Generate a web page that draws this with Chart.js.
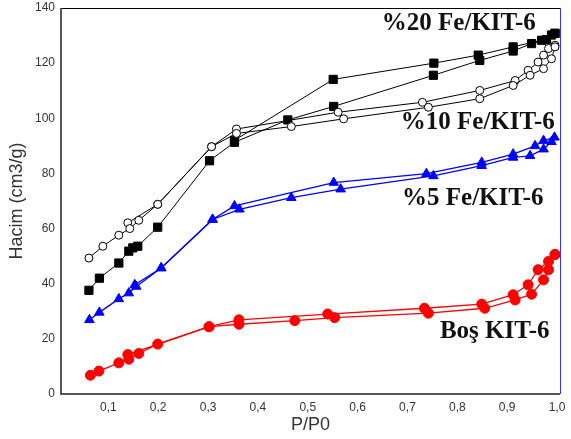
<!DOCTYPE html>
<html>
<head>
<meta charset="utf-8">
<script src="https://cdn.jsdelivr.net/npm/chart.js@4.4.1/dist/chart.umd.min.js"></script>
<style>
  html, body { margin: 0; padding: 0; background: #fff; }
  #wrap { width: 571px; height: 439px; position: relative; }
</style>
</head>
<body>
<div id="wrap"><canvas id="c"></canvas></div>
<script>
// Relative pressure ticks
var xTicks = [0.1, 0.2, 0.3, 0.4, 0.5, 0.6, 0.7, 0.8, 0.9, 1.0];
var yTicks = [0, 20, 40, 60, 80, 100, 120, 140];

// %20 Fe/KIT-6 (squares)
var fe20AdsP = [0.061, 0.082, 0.121, 0.141, 0.149, 0.159, 0.199, 0.303, 0.353, 0.460, 0.552, 0.752, 0.845, 0.912, 0.949, 0.979, 0.996];
var fe20AdsV = [37.6, 42.0, 47.5, 51.8, 53.0, 53.6, 60.5, 84.6, 91.3, 99.4, 104.3, 115.6, 121.0, 124.4, 127.1, 128.5, 130.8];
var fe20DesP = [0.996, 0.989, 0.969, 0.912, 0.842, 0.753, 0.551, 0.353];
var fe20DesV = [130.8, 130.2, 128.3, 125.9, 122.9, 120.0, 114.1, 92.0];

// %10 Fe/KIT-6 (open circles)
var fe10AdsP = [0.061, 0.089, 0.121, 0.143, 0.161, 0.199, 0.307, 0.357, 0.467, 0.572, 0.742, 0.845, 0.912, 0.946, 0.973, 0.989, 0.996];
var fe10AdsV = [49.3, 53.6, 57.6, 60.0, 63.0, 68.8, 89.7, 94.5, 97.0, 99.8, 104.0, 107.1, 111.9, 115.6, 118.0, 121.6, 125.9];
var fe10DesP = [0.996, 0.983, 0.973, 0.962, 0.942, 0.916, 0.845, 0.730, 0.561, 0.357, 0.307, 0.199, 0.139];
var fe10DesV = [126.5, 125.3, 122.9, 120.4, 117.4, 113.7, 110.1, 105.8, 102.2, 96.1, 89.7, 68.8, 62.1];

// %5 Fe/KIT-6 (triangles)
var fe5AdsP = [0.062, 0.082, 0.121, 0.141, 0.156, 0.206, 0.309, 0.363, 0.467, 0.566, 0.752, 0.849, 0.912, 0.946, 0.973, 0.989];
var fe5AdsV = [26.9, 29.6, 34.5, 36.6, 39.0, 45.7, 63.3, 67.0, 71.2, 74.3, 79.1, 82.8, 85.8, 86.4, 88.8, 91.5];
var fe5DesP = [0.995, 0.973, 0.956, 0.912, 0.849, 0.738, 0.552, 0.353, 0.309, 0.206, 0.153];
var fe5DesV = [93.1, 91.9, 90.0, 87.0, 84.0, 79.9, 76.7, 68.2, 63.3, 45.7, 39.6];

// Boş KIT-6 (red dots)
var bosAdsP = [0.064, 0.081, 0.121, 0.141, 0.161, 0.199, 0.302, 0.362, 0.474, 0.554, 0.742, 0.855, 0.916, 0.949, 0.973, 0.983, 0.996];
var bosAdsV = [6.8, 8.3, 11.3, 12.6, 14.7, 18.1, 24.4, 25.3, 26.6, 27.7, 29.3, 31.1, 34.1, 36.2, 41.4, 45.1, 50.6];
var bosDesP = [0.996, 0.983, 0.962, 0.942, 0.912, 0.849, 0.734, 0.540, 0.362, 0.302, 0.139];
var bosDesV = [50.6, 48.1, 45.1, 39.6, 36.0, 32.6, 31.1, 29.0, 26.9, 24.4, 14.3];

// Series labels placed in data coordinates
var labelText = ['%20 Fe/KIT-6', '%10 Fe/KIT-6', '%5 Fe/KIT-6', 'Boş KIT-6'];
var labelP = [0.803, 0.841, 0.831, 0.875];
var labelV = [134.2, 98.3, 70.9, 22.6];

function pts(xs, ys) {
  return xs.map(function (x, i) { return { x: x, y: ys[i] }; });
}

function series(xs, ys, color, style, radius, fill, width) {
  return {
    data: pts(xs, ys),
    showLine: true,
    borderColor: color,
    borderWidth: width,
    pointStyle: style,
    pointRadius: radius,
    pointHoverRadius: radius,
    pointBackgroundColor: fill,
    pointBorderColor: color,
    pointBorderWidth: 1
  };
}

var frame = {
  id: 'frame',
  afterDatasetsDraw: function (chart) {
    var a = chart.chartArea, ctx = chart.ctx;
    ctx.save();
    ctx.lineWidth = 1;
    ctx.strokeStyle = '#000';
    ctx.beginPath();
    ctx.moveTo(a.left, a.top + 0.5);
    ctx.lineTo(a.right, a.top + 0.5);
    ctx.stroke();
    ctx.strokeStyle = '#3333ff';
    ctx.beginPath();
    ctx.moveTo(a.right + 0.5, a.top);
    ctx.lineTo(a.right + 0.5, a.bottom);
    ctx.stroke();
    ctx.strokeStyle = '#555';
    ctx.lineWidth = 2;
    ctx.beginPath();
    ctx.moveTo(a.left, a.top);
    ctx.lineTo(a.left, a.bottom);
    ctx.lineTo(a.right, a.bottom);
    ctx.stroke();

    var xs = chart.scales.x, ys = chart.scales.y;
    ctx.fillStyle = '#111';
    ctx.font = 'bold 25px "Liberation Serif", "Times New Roman", serif';
    ctx.textAlign = 'center';
    ctx.textBaseline = 'middle';
    labelText.forEach(function (t, i) {
      ctx.fillText(t, xs.getPixelForValue(labelP[i]), ys.getPixelForValue(labelV[i]));
    });
    ctx.restore();
  }
};

new Chart(document.getElementById('c'), {
  type: 'scatter',
  data: {
    datasets: [
      series(bosAdsP, bosAdsV, '#ff0000', 'circle', 5, '#ff0000', 1.3),
      series(bosDesP, bosDesV, '#ff0000', 'circle', 5, '#ff0000', 1.3),
      series(fe5AdsP, fe5AdsV, '#0000ff', 'triangle', 5.5, '#0000ff', 1.3),
      series(fe5DesP, fe5DesV, '#0000ff', 'triangle', 5.5, '#0000ff', 1.3),
      series(fe10AdsP, fe10AdsV, '#000', 'circle', 4, '#fff', 1),
      series(fe10DesP, fe10DesV, '#000', 'circle', 4, '#fff', 1),
      series(fe20AdsP, fe20AdsV, '#000', 'rect', 5.8, '#000', 1),
      series(fe20DesP, fe20DesV, '#000', 'rect', 5.8, '#000', 1)
    ]
  },
  options: {
    responsive: true,
    maintainAspectRatio: false,
    animation: false,
    layout: { padding: { left: 0, right: 11, top: 8, bottom: 0 } },
    plugins: { legend: { display: false }, tooltip: { enabled: false } },
    scales: {
      x: {
        type: 'linear',
        min: 0.005,
        max: 1.006,
        afterBuildTicks: function (s) { s.ticks = xTicks.map(function (v) { return { value: v }; }); },
        afterFit: function (s) { s.height = 45; s.paddingLeft = 0; s.paddingRight = 0; },
        grid: { display: false, drawTicks: false },
        border: { display: false },
        ticks: {
          color: '#333',
          padding: 6,
          font: { family: 'Arial, "Liberation Sans", sans-serif', size: 12 },
          callback: function (v) { return v.toFixed(1).replace('.', ','); }
        },
        title: {
          display: true,
          text: 'P/P0',
          color: '#333',
          padding: { top: 2, bottom: 3 },
          font: { family: 'Arial, "Liberation Sans", sans-serif', size: 18 }
        }
      },
      y: {
        type: 'linear',
        min: 0,
        max: 140,
        afterBuildTicks: function (s) { s.ticks = yTicks.map(function (v) { return { value: v }; }); },
        afterFit: function (s) { s.width = 61; s.paddingTop = 0; s.paddingBottom = 0; },
        grid: { display: false, drawTicks: false },
        border: { display: false },
        ticks: {
          color: '#333',
          padding: 6,
          font: { family: 'Arial, "Liberation Sans", sans-serif', size: 12 }
        },
        title: {
          display: true,
          text: 'Hacim (cm3/g)',
          color: '#333',
          padding: { top: 6, bottom: 2 },
          font: { family: 'Arial, "Liberation Sans", sans-serif', size: 18 }
        }
      }
    }
  },
  plugins: [frame]
});
</script>
</body>
</html>
